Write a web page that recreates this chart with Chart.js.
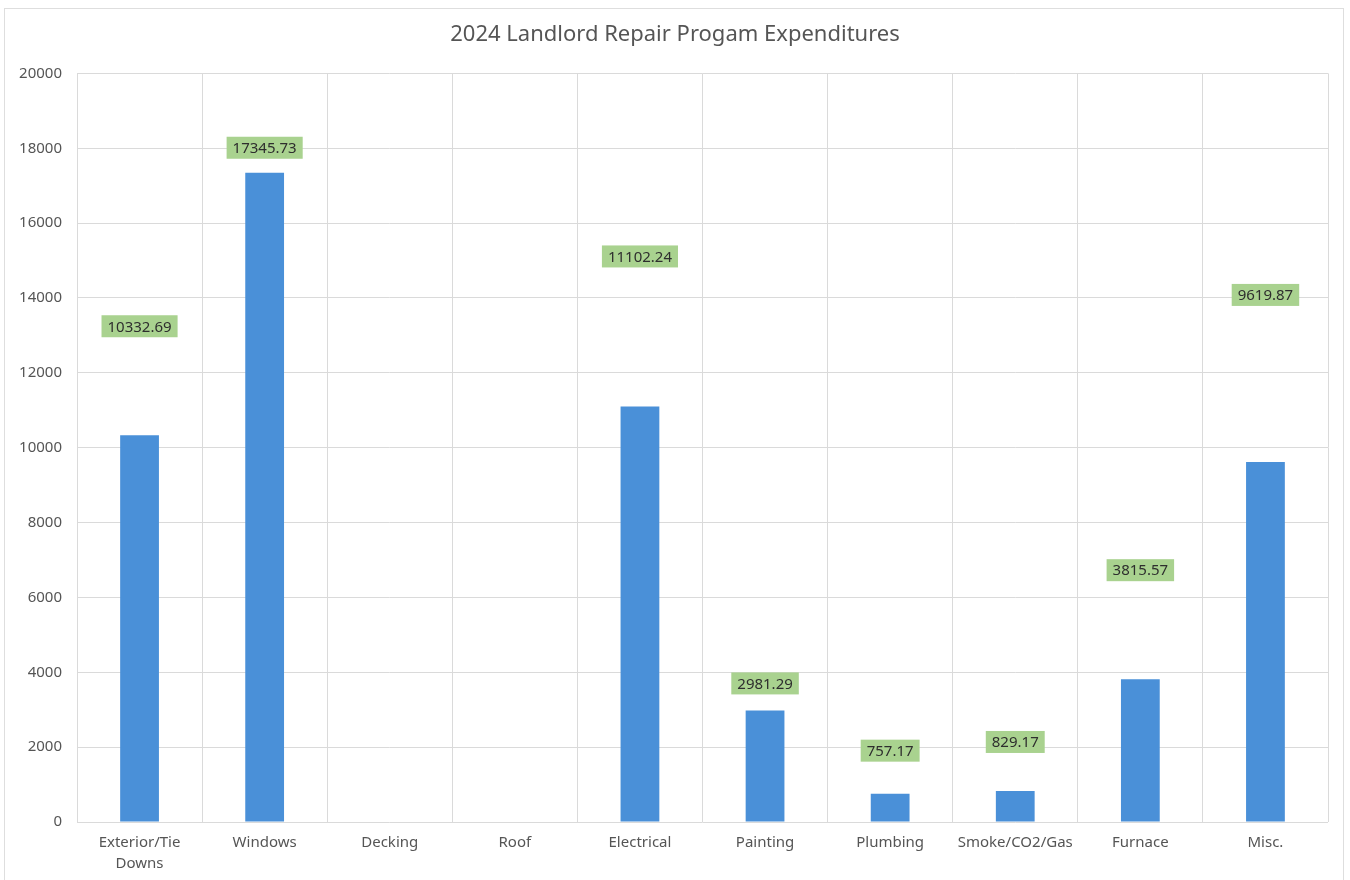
<!DOCTYPE html>
<html>
<head>
<meta charset="utf-8">
<title>2024 Landlord Repair Progam Expenditures</title>
<script src="https://cdn.jsdelivr.net/npm/chart.js@4.4.1/dist/chart.umd.min.js"></script>
<style>
  html, body { margin: 0; padding: 0; background: #fff; }
  /* thin frame round the chart, like the spreadsheet chart box */
  #frame {
    position: absolute; left: 4px; top: 8px; width: 1340px; height: 900px;
    border: 1px solid #dedede; box-sizing: border-box;
  }
  #wrap { position: absolute; left: 0; top: 0; width: 1350px; height: 880px; }
</style>
</head>
<body>
<div id="frame"></div>
<div id="wrap"><canvas id="expense-chart"></canvas></div>
<script>
// repair categories along the x axis
const categories = [
  ["Exterior/Tie", "Downs"], "Windows", "Decking", "Roof", "Electrical",
  "Painting", "Plumbing", "Smoke/CO2/Gas", "Furnace", "Misc."
];
// dollars spent per category
const expenditures = [
  10332.69, 17345.73, 0, 0, 11102.24,
  2981.29, 757.17, 829.17, 3815.57, 9619.87
];
// y axis range and step
const yMin = 0;
const yMax = 20000;
const yStep = 2000;

const FONT = "'Noto Sans', 'Open Sans', sans-serif";

// green value boxes; each one floats a different distance above its bar
const valueBoxes = {
  id: "valueBoxes",
  afterDatasetsDraw(chart, args, opts) {
    const ctx = chart.ctx;
    const meta = chart.getDatasetMeta(0);
    const values = chart.data.datasets[0].data;
    ctx.save();
    ctx.font = "15px " + FONT;
    ctx.textAlign = "center";
    ctx.textBaseline = "middle";
    meta.data.forEach((bar, i) => {
      const v = values[i];
      if (!v) return;
      const text = v.toFixed(2);
      const w = ctx.measureText(text).width + 12;
      const h = 22;
      const cy = bar.y - opts.lift[i];
      ctx.fillStyle = "#a9d28f";
      ctx.fillRect(bar.x - w / 2, cy - h / 2, w, h);
      ctx.fillStyle = "#2e2e2e";
      ctx.fillText(text, bar.x, cy + 1);
    });
    ctx.restore();
  }
};

// centre the title on the whole canvas rather than on the padded box
const titleCentre = {
  id: "titleCentre",
  afterLayout(chart) {
    const t = chart.titleBlock;
    if (!t) return;
    t.left = 0;
    t.right = chart.width;
    t.width = chart.width;
  }
};

function createExpenseChart() {
  const canvas = document.querySelector("#expense-chart");
  let options = {
    type: "bar",
    data: {
      labels: categories,
      datasets: [{
        data: expenditures,
        backgroundColor: "#4a90d8",
        barPercentage: 0.31,
        categoryPercentage: 1.0
      }]
    },
    options: {
      responsive: false,
      animation: false,
      layout: { padding: { left: 0, right: 22, top: 0, bottom: 0 } },
      scales: {
        x: {
          offset: true,
          grid: { color: "#dadada", lineWidth: 1, offset: true, drawTicks: false },
          border: { display: false },
          ticks: {
            color: "#555",
            font: { family: FONT, size: 15, lineHeight: 1.35 },
            padding: 11,
            maxRotation: 0,
            autoSkip: false
          },
          afterFit(scale) { scale.height = 58; }
        },
        y: {
          min: yMin,
          max: yMax,
          grid: { color: "#dadada", lineWidth: 1, drawTicks: false },
          border: { display: false },
          ticks: {
            stepSize: yStep,
            color: "#555",
            font: { family: FONT, size: 15 },
            padding: 15,
            callback: (v) => String(v)
          },
          afterFit(scale) { scale.width = 77; }
        }
      },
      plugins: {
        legend: { display: false },
        tooltip: { enabled: false },
        title: {
          display: true,
          text: "2024 Landlord Repair Progam Expenditures",
          color: "#555",
          font: { family: FONT, size: 22, weight: "normal" },
          padding: { top: 22, bottom: 25 }
        },
        valueBoxes: {
          // pixel gap from bar top to box centre
          lift: [109, 25, 0, 0, 150, 27, 43, 49, 109, 167]
        }
      }
    },
    plugins: [titleCentre, valueBoxes]
  };
  canvas.width = 1350;
  canvas.height = 880;
  const chart = new Chart(canvas.getContext("2d"), options);
}

createExpenseChart();
</script>
</body>
</html>
